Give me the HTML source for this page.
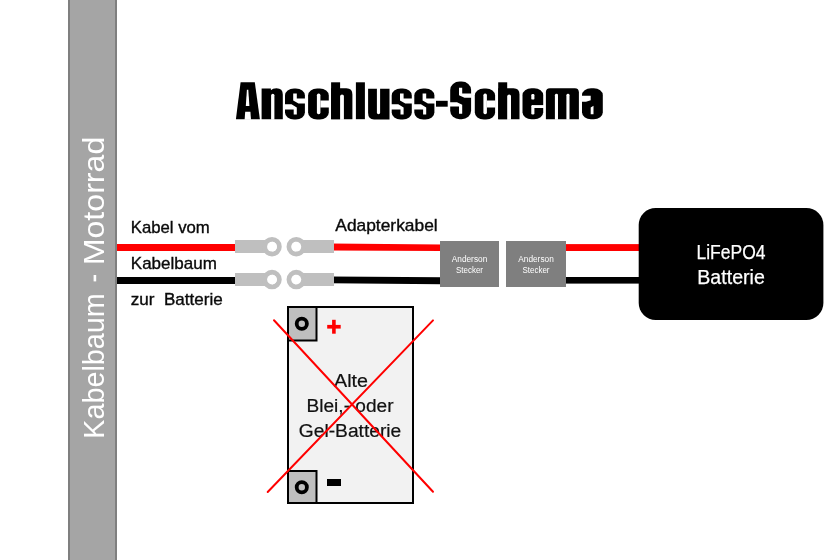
<!DOCTYPE html>
<html><head><meta charset="utf-8">
<style>
html,body{margin:0;padding:0;background:#fff;width:840px;height:560px;overflow:hidden}
svg{display:block;will-change:transform}
text{font-family:"Liberation Sans",sans-serif}
</style></head>
<body>
<svg width="840" height="560" viewBox="0 0 840 560">
<rect x="0" y="0" width="840" height="560" fill="#ffffff"/>
<!-- gray bar -->
<rect x="69" y="-5" width="47" height="570" fill="#a5a5a5" stroke="#7f7f7f" stroke-width="2"/>
<g transform="translate(103.6,0) rotate(-90)" font-size="29" fill="#ffffff">
<text x="-438.8" y="0" textLength="145.6" lengthAdjust="spacingAndGlyphs">Kabelbaum</text>

<text x="-265.3" y="0" textLength="128.6" lengthAdjust="spacingAndGlyphs">Motorrad</text>
</g>
<rect x="93.6" y="275" width="2.6" height="6.4" fill="#fff"/>

<!-- title -->
<g id="title">
<g fill="#000">
<path d="M235.9,119.2 L240.6,82.3 L254.8,82.3 L259.9,119.2 Z"/>
<path d="M261.6,119.2 V88.6 H270.9 V90.3 Q272.5,88.3 276.5,88.3 Q282.8,88.3 282.8,94.5 V119.2 Z"/>
<rect x="285.0" y="88.4" width="19.9" height="31.1" rx="9" ry="7"/>
<rect x="308.1" y="88.4" width="20.7" height="31.1" rx="9" ry="7"/>
<rect x="331.1" y="82.3" width="9" height="36.9"/>
<path d="M331.1,119.2 V88.2 H346.4 Q352.4,88.2 352.4,94.5 V119.2 Z"/>
<rect x="355.9" y="82.3" width="9" height="36.9"/>
<path d="M368.1,88.8 H389.5 V119.4 H374 Q368.1,119.4 368.1,113 Z"/>
<rect x="391.7" y="88.4" width="20.1" height="31.1" rx="9" ry="7"/>
<rect x="414.3" y="88.4" width="20.1" height="31.1" rx="9" ry="7"/>
<rect x="436" y="100.8" width="11.7" height="5.9"/>
<rect x="450.2" y="81.5" width="20.9" height="37.8" rx="9.5" ry="8.5"/>
<rect x="474.8" y="88.4" width="20.3" height="31.1" rx="9" ry="7"/>
<rect x="498.2" y="82.3" width="9" height="36.9"/>
<path d="M498.2,119.2 V88.2 H513.5 Q519.5,88.2 519.5,94.5 V119.2 Z"/>
<rect x="522.5" y="88.2" width="20.7" height="31.1" rx="9" ry="7"/>
<path d="M545.9,119.2 V92 Q545.9,88.2 550,88.2 H574.9 Q578.9,88.2 578.9,92.5 V119.2 Z"/>
<rect x="582" y="88.2" width="20.8" height="31.1" rx="9" ry="7"/>
</g>
<g fill="#fff">
<path d="M246.9,89.8 L248.3,89.8 L249.4,106.0 L245.8,106.0 Z"/>
<path d="M245.2,111.8 L250.4,111.8 L251.0,119.8 L244.6,119.8 Z"/>
<path d="M271.1,119.8 V95.3 Q271.3,93.8 272.8,93.8 Q274.4,93.8 274.4,95.3 V119.8 Z"/>
<path d="M293.2,93.5 L296.8,93.5 L296.8,98.4 L306.0,98.4 L306.0,103.6 L298.5,103.6 L293.2,100.5 Z"/>
<path d="M284.0,104.2 L291.5,104.2 L296.8,107.5 L296.8,114.5 L293.7,114.5 L293.7,109.4 L284.0,109.4 Z"/>
<rect x="316.9" y="93.6" width="3.5" height="20.6" rx="1.6"/>
<rect x="320.4" y="100.5" width="8.9" height="7"/>
<path d="M340.1,119.8 V96 Q340.5,94.5 342.0,94.5 Q343.9,94.5 343.9,96 V119.8 Z"/>
<path d="M376.9,88 H380.1 V112.8 Q380.1,114.2 378.5,114.2 Q376.9,114.2 376.9,112.8 Z"/>
<path d="M400.0,93.5 L403.6,93.5 L403.6,98.4 L412.9,98.4 L412.9,103.6 L405.3,103.6 L400.0,100.5 Z"/>
<path d="M390.7,104.2 L398.3,104.2 L403.6,107.5 L403.6,114.5 L400.5,114.5 L400.5,109.4 L390.7,109.4 Z"/>
<path d="M422.6,93.5 L426.2,93.5 L426.2,98.4 L435.5,98.4 L435.5,103.6 L427.9,103.6 L422.6,100.5 Z"/>
<path d="M413.3,104.2 L420.9,104.2 L426.2,107.5 L426.2,114.5 L423.1,114.5 L423.1,109.4 L413.3,109.4 Z"/>
<path d="M459.0,87.8 L462.2,87.8 L462.2,93.6 L471.6,93.6 L471.6,97.8 L464.5,97.8 L459.0,95.2 Z"/>
<path d="M449.8,102.2 L457.0,102.2 L462.2,104.8 L462.2,113.7 L459.0,113.7 L459.0,106.5 L449.8,106.5 Z"/>
<rect x="483.4" y="93.6" width="3.5" height="20.6" rx="1.6"/>
<rect x="486.9" y="100.5" width="8.7" height="7"/>
<path d="M507.2,119.8 V96 Q507.6,94.5 509.1,94.5 Q511.0,94.5 511.0,96 V119.8 Z"/>
<rect x="531.3" y="94.1" width="3.1" height="5.5" rx="1.2"/>
<rect x="531.3" y="105.1" width="3.1" height="9.4" rx="1.2"/>
<rect x="534" y="105.1" width="10" height="2.9"/>
<path d="M554.9,119.8 V95.2 Q555.1,93.8 556.5,93.8 Q558,93.8 558,95.2 V119.8 Z"/>
<path d="M566.4,119.8 V95.2 Q566.6,93.8 568,93.8 Q569.5,93.8 569.5,95.2 V119.8 Z"/>
<path d="M581.5,95.7 L590.7,95.7 L590.7,100.2 L586.0,101.8 L581.5,101.8 Z"/>
<path d="M590.7,107.5 L593.5,105.7 L593.5,114.2 L590.7,114.2 Z"/>
</g>
</g>

<!-- wires -->
<rect x="117" y="244" width="123" height="7" fill="#ff0000"/>
<rect x="117" y="277" width="123" height="7" fill="#000000"/>
<path d="M330,243.6 L442,244.5 L442,251.1 L330,250.4 Z" fill="#ff0000"/>
<path d="M330,276.5 L442,277.2 L442,284.2 L330,283.3 Z" fill="#000000"/>
<rect x="564" y="244.1" width="78" height="6.9" fill="#ff0000"/>
<rect x="564" y="277" width="78" height="6.6" fill="#000000"/>

<!-- ring terminals -->
<g fill="#bfbfbf">
<rect x="235" y="240" width="37" height="13"/>
<rect x="296" y="240" width="38" height="13"/>
<rect x="235" y="273" width="37" height="13"/>
<rect x="296" y="273" width="38" height="13"/>
</g>
<g fill="none" stroke="#bfbfbf" stroke-width="4.9">
<circle cx="272" cy="246.7" r="7.3"/>
<circle cx="296.3" cy="246.7" r="7.3"/>
<circle cx="272" cy="279.6" r="7.3"/>
<circle cx="296.3" cy="279.6" r="7.3"/>
</g>
<g fill="#fff">
<circle cx="272" cy="246.7" r="4.9"/>
<circle cx="296.3" cy="246.7" r="4.9"/>
<circle cx="272" cy="279.6" r="4.9"/>
<circle cx="296.3" cy="279.6" r="4.9"/>
</g>

<!-- anderson -->
<rect x="440" y="241" width="59" height="46" fill="#7f7f7f"/>
<rect x="506" y="241" width="60" height="46" fill="#7f7f7f"/>
<g font-size="8.5" fill="#ffffff" text-anchor="middle">
<text x="469.5" y="262" textLength="35.5" lengthAdjust="spacingAndGlyphs">Anderson</text>
<text x="469.5" y="273" textLength="27" lengthAdjust="spacingAndGlyphs">Stecker</text>
<text x="536" y="262" textLength="35.5" lengthAdjust="spacingAndGlyphs">Anderson</text>
<text x="536" y="273" textLength="27" lengthAdjust="spacingAndGlyphs">Stecker</text>
</g>

<!-- LiFePO4 -->
<rect x="638.7" y="208" width="184.7" height="112" rx="17" fill="#000"/>
<text x="696.5" y="259" font-size="20" fill="#fff" stroke="#fff" stroke-width="0.25" textLength="69" lengthAdjust="spacingAndGlyphs">LiFePO4</text>
<text x="697.3" y="283.7" font-size="20" fill="#fff" stroke="#fff" stroke-width="0.25" textLength="67.5" lengthAdjust="spacingAndGlyphs">Batterie</text>

<!-- labels -->
<g font-size="16.2" fill="#0a0a0a" stroke="#0a0a0a" stroke-width="0.35">
<text x="130.8" y="232.5" textLength="79" lengthAdjust="spacingAndGlyphs">Kabel vom</text>
<text x="130.8" y="268.9" textLength="86" lengthAdjust="spacingAndGlyphs">Kabelbaum</text>
<text x="130.8" y="304.6" xml:space="preserve" style="white-space:pre" textLength="92" lengthAdjust="spacingAndGlyphs">zur  Batterie</text>
<text x="335.3" y="231.4" textLength="102.4" lengthAdjust="spacingAndGlyphs">Adapterkabel</text>
</g>

<!-- old battery -->
<rect x="288" y="307" width="125" height="196" fill="#f2f2f2" stroke="#000" stroke-width="2"/>
<rect x="288" y="307" width="28.5" height="33.5" fill="#bfbfbf" stroke="#000" stroke-width="2"/>
<rect x="288" y="471" width="28.5" height="32" fill="#bfbfbf" stroke="#000" stroke-width="2"/>
<circle cx="301.8" cy="323.8" r="5.1" fill="#bfbfbf" stroke="#000" stroke-width="3.8"/>
<circle cx="301.8" cy="487.3" r="5.1" fill="#bfbfbf" stroke="#000" stroke-width="3.8"/>
<rect x="332.1" y="319.8" width="3.6" height="13.9" fill="#ff0000"/>
<rect x="327.2" y="324.9" width="13.5" height="3.7" fill="#ff0000"/>
<rect x="327" y="479" width="14" height="7" fill="#000"/>
<g font-size="17.6" fill="#111" stroke="#111" stroke-width="0.2">
<text x="334" y="386.6" textLength="34" lengthAdjust="spacingAndGlyphs">Alte</text>
<text x="306.5" y="412.4" textLength="87" lengthAdjust="spacingAndGlyphs">Blei,- oder</text>
<text x="298.8" y="437" textLength="102.5" lengthAdjust="spacingAndGlyphs">Gel-Batterie</text>
</g>
<g stroke="#ff0000" stroke-width="2" stroke-linecap="round">
<line x1="274" y1="320.3" x2="433" y2="491.8"/>
<line x1="433" y1="320.4" x2="267.7" y2="492"/>
</g>
</svg>
</body></html>
